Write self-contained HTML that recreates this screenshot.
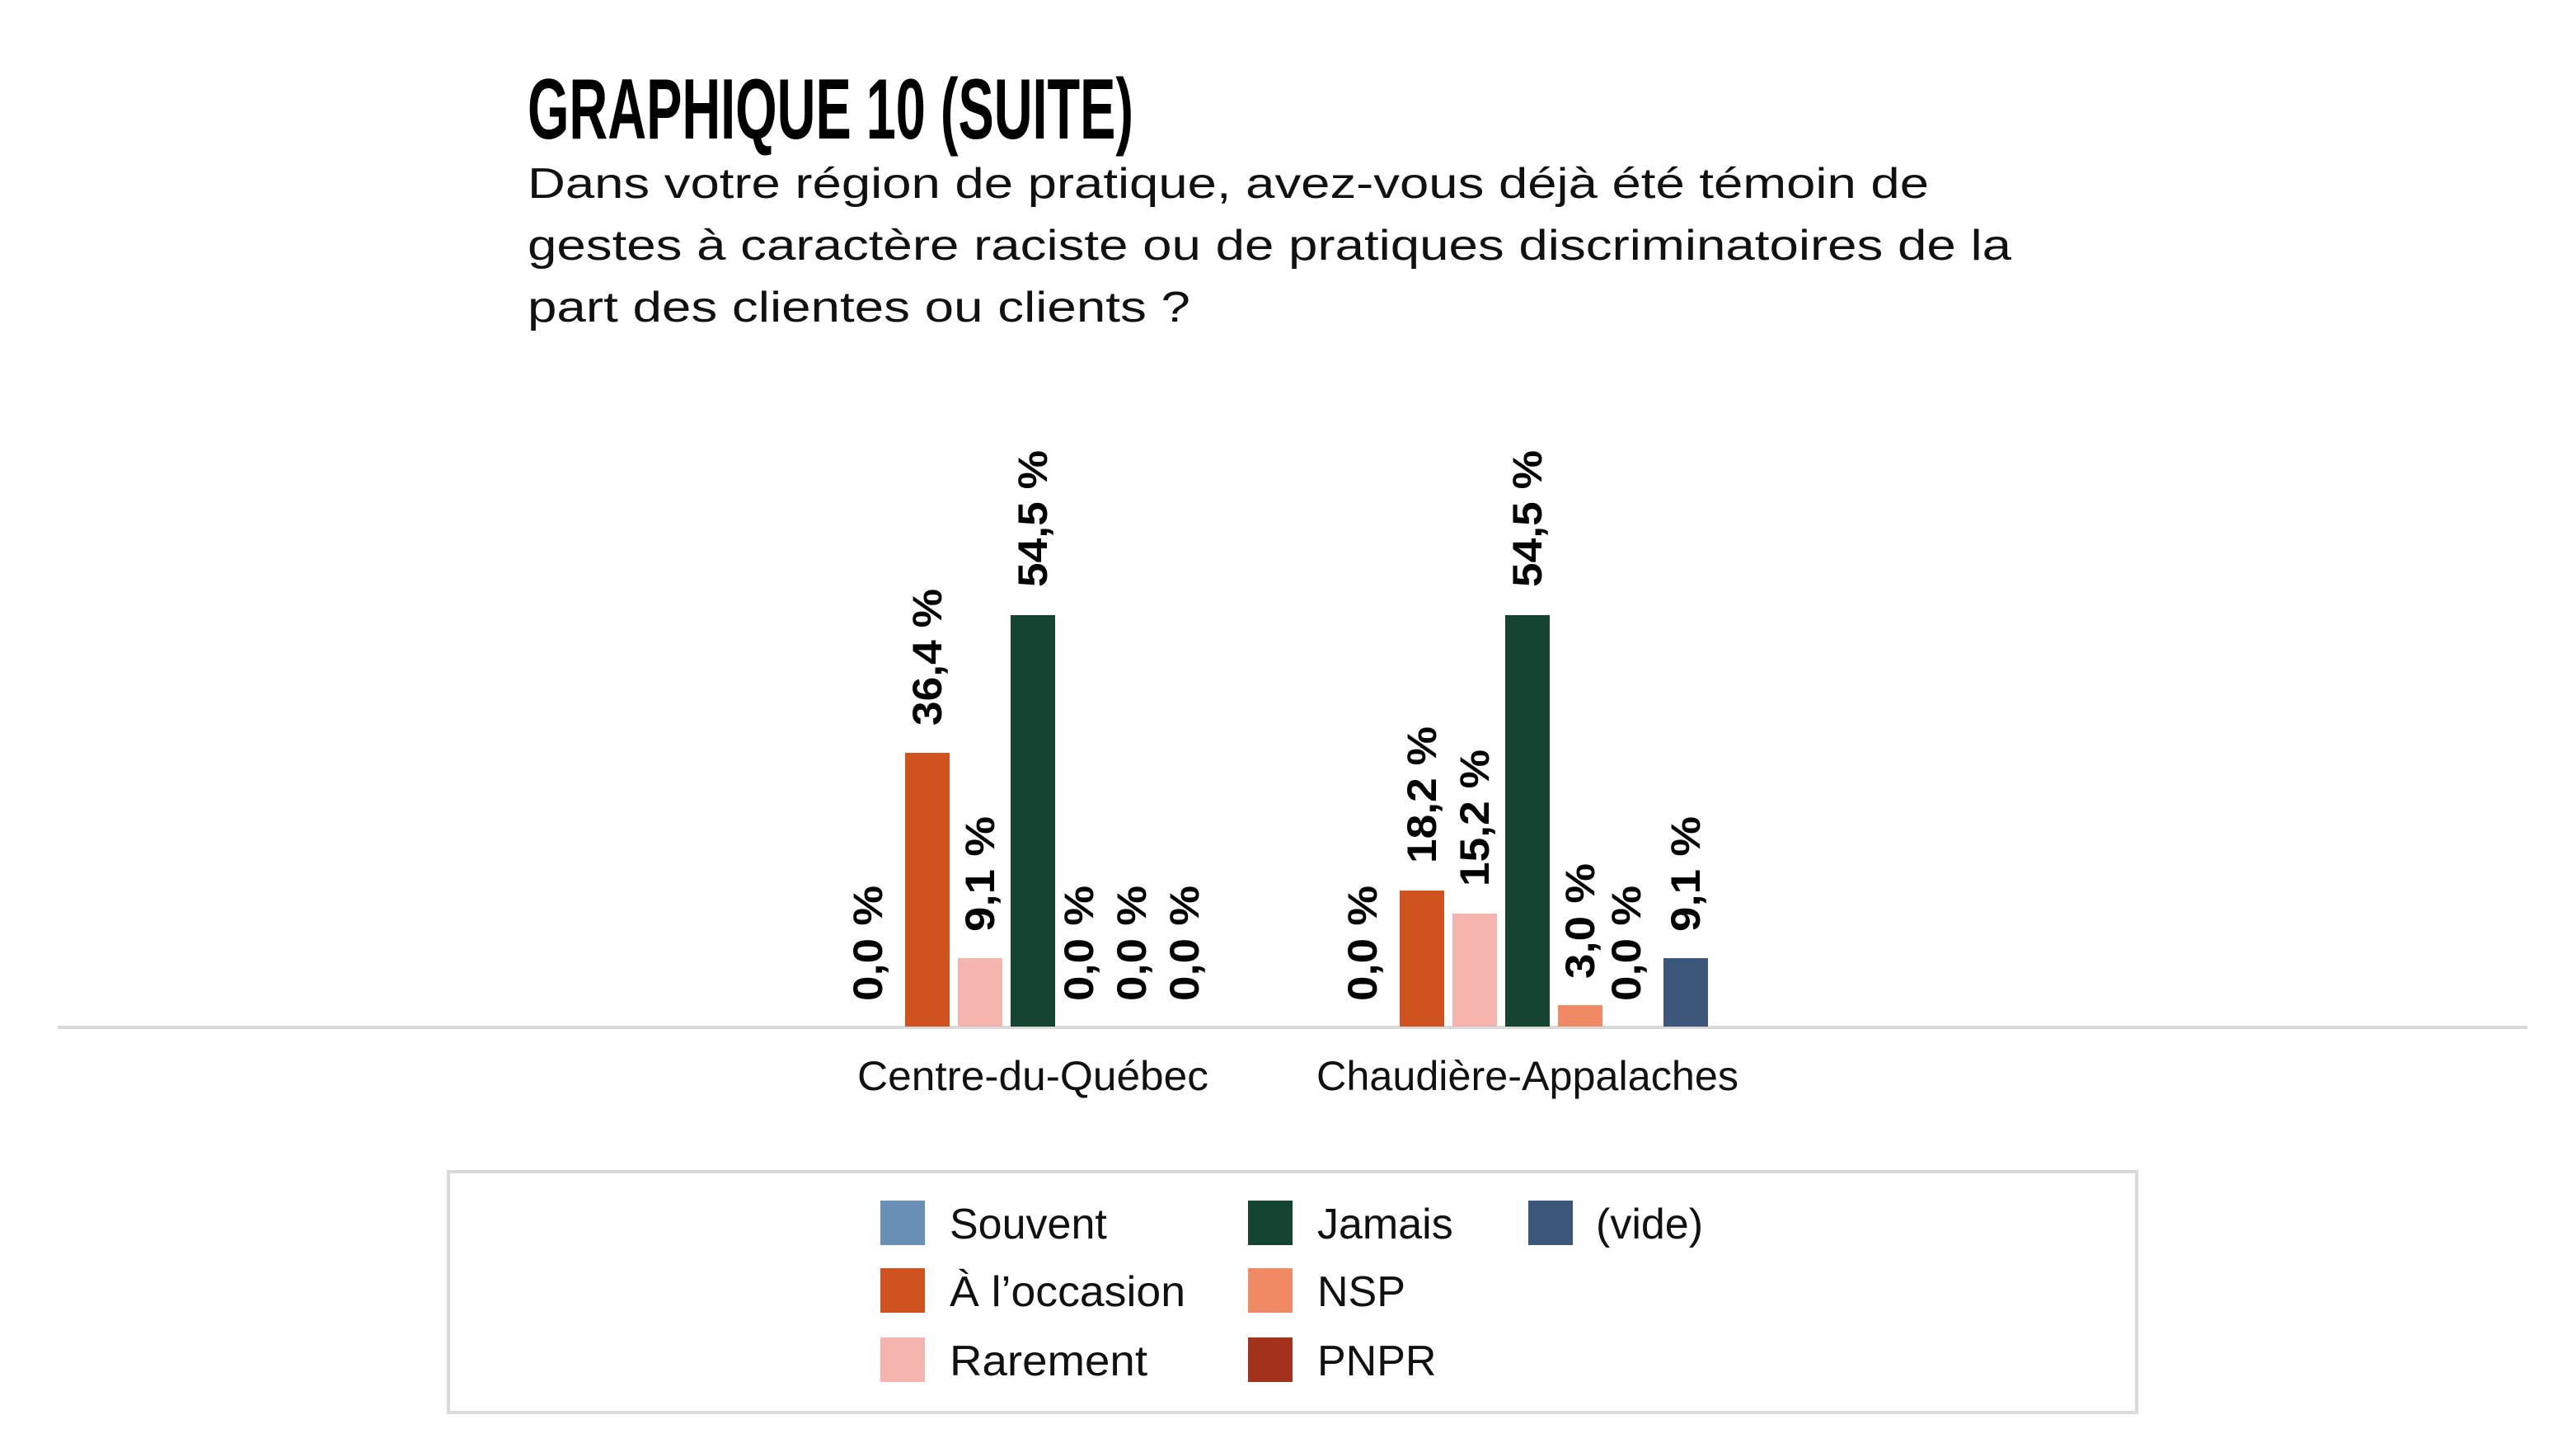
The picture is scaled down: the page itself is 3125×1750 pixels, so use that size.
<!DOCTYPE html>
<html><head><meta charset="utf-8"><style>html,body{margin:0;padding:0;background:#fff}svg{display:block}</style></head>
<body>
<svg width="3125" height="1750" viewBox="0 0 3125 1750" xmlns="http://www.w3.org/2000/svg" font-family="Liberation Sans, sans-serif">
<rect width="3125" height="1750" fill="#fff"/>
<text x="640" y="168" font-size="104" font-weight="bold" textLength="735" lengthAdjust="spacingAndGlyphs" fill="#000">GRAPHIQUE 10 (SUITE)</text>
<g font-size="52" fill="#111">
<text x="640" y="240" textLength="1700" lengthAdjust="spacingAndGlyphs">Dans votre région de pratique, avez-vous déjà été témoin de</text>
<text x="640" y="315" textLength="1800" lengthAdjust="spacingAndGlyphs">gestes à caractère raciste ou de pratiques discriminatoires de la</text>
<text x="640" y="390" textLength="804" lengthAdjust="spacingAndGlyphs">part des clientes ou clients ?</text>
</g>
<line x1="70" y1="1246" x2="3066" y2="1246" stroke="#d9d9d9" stroke-width="4"/>
<rect x="1098" y="913" width="54" height="332" fill="#d0521e"/>
<rect x="1162" y="1162" width="54" height="83" fill="#f5b5ae"/>
<rect x="1226" y="746" width="54" height="499" fill="#134530"/>
<rect x="1698" y="1080" width="54" height="165" fill="#d0521e"/>
<rect x="1762" y="1108" width="54" height="137" fill="#f5b5ae"/>
<rect x="1826" y="746" width="54" height="499" fill="#134530"/>
<rect x="1890" y="1219" width="54" height="26" fill="#f08a64"/>
<rect x="2018" y="1162" width="54" height="83" fill="#3c5779"/>
<g font-size="50" font-weight="bold" fill="#000">
<text transform="translate(1070,1214) rotate(-90)" textLength="140" lengthAdjust="spacingAndGlyphs">0,0 %</text>
<text transform="translate(1142,880) rotate(-90)" textLength="166" lengthAdjust="spacingAndGlyphs">36,4 %</text>
<text transform="translate(1206,1130) rotate(-90)" textLength="140" lengthAdjust="spacingAndGlyphs">9,1 %</text>
<text transform="translate(1270,712) rotate(-90)" textLength="166" lengthAdjust="spacingAndGlyphs">54,5 %</text>
<text transform="translate(1326,1214) rotate(-90)" textLength="140" lengthAdjust="spacingAndGlyphs">0,0 %</text>
<text transform="translate(1390,1214) rotate(-90)" textLength="140" lengthAdjust="spacingAndGlyphs">0,0 %</text>
<text transform="translate(1454,1214) rotate(-90)" textLength="140" lengthAdjust="spacingAndGlyphs">0,0 %</text>
<text transform="translate(1670,1214) rotate(-90)" textLength="140" lengthAdjust="spacingAndGlyphs">0,0 %</text>
<text transform="translate(1742,1047) rotate(-90)" textLength="166" lengthAdjust="spacingAndGlyphs">18,2 %</text>
<text transform="translate(1806,1075) rotate(-90)" textLength="166" lengthAdjust="spacingAndGlyphs">15,2 %</text>
<text transform="translate(1870,712) rotate(-90)" textLength="166" lengthAdjust="spacingAndGlyphs">54,5 %</text>
<text transform="translate(1934,1187) rotate(-90)" textLength="140" lengthAdjust="spacingAndGlyphs">3,0 %</text>
<text transform="translate(1990,1214) rotate(-90)" textLength="140" lengthAdjust="spacingAndGlyphs">0,0 %</text>
<text transform="translate(2062,1130) rotate(-90)" textLength="140" lengthAdjust="spacingAndGlyphs">9,1 %</text>
</g>
<g font-size="50" fill="#111" text-anchor="middle">
<text x="1253" y="1322" textLength="426" lengthAdjust="spacingAndGlyphs">Centre-du-Québec</text>
<text x="1853" y="1322" textLength="512" lengthAdjust="spacingAndGlyphs">Chaudière-Appalaches</text>
</g>
<rect x="544" y="1421" width="2048" height="292" fill="none" stroke="#d9d9d9" stroke-width="4"/>
<g font-size="52" fill="#111">
<rect x="1068" y="1456" width="54" height="54" fill="#6a8fb5"/><text x="1152" y="1502">Souvent</text>
<rect x="1068" y="1538" width="54" height="54" fill="#d0521e"/><text x="1152" y="1584" textLength="286" lengthAdjust="spacingAndGlyphs">À l’occasion</text>
<rect x="1068" y="1622" width="54" height="54" fill="#f5b5ae"/><text x="1152" y="1668" textLength="240" lengthAdjust="spacingAndGlyphs">Rarement</text>
<rect x="1514" y="1456" width="54" height="54" fill="#134530"/><text x="1598" y="1502">Jamais</text>
<rect x="1514" y="1538" width="54" height="54" fill="#f08a64"/><text x="1598" y="1584">NSP</text>
<rect x="1514" y="1622" width="54" height="54" fill="#a3321c"/><text x="1598" y="1668">PNPR</text>
<rect x="1854" y="1456" width="54" height="54" fill="#3c5779"/><text x="1936" y="1502">(vide)</text>
</g>
</svg>
</body></html>
